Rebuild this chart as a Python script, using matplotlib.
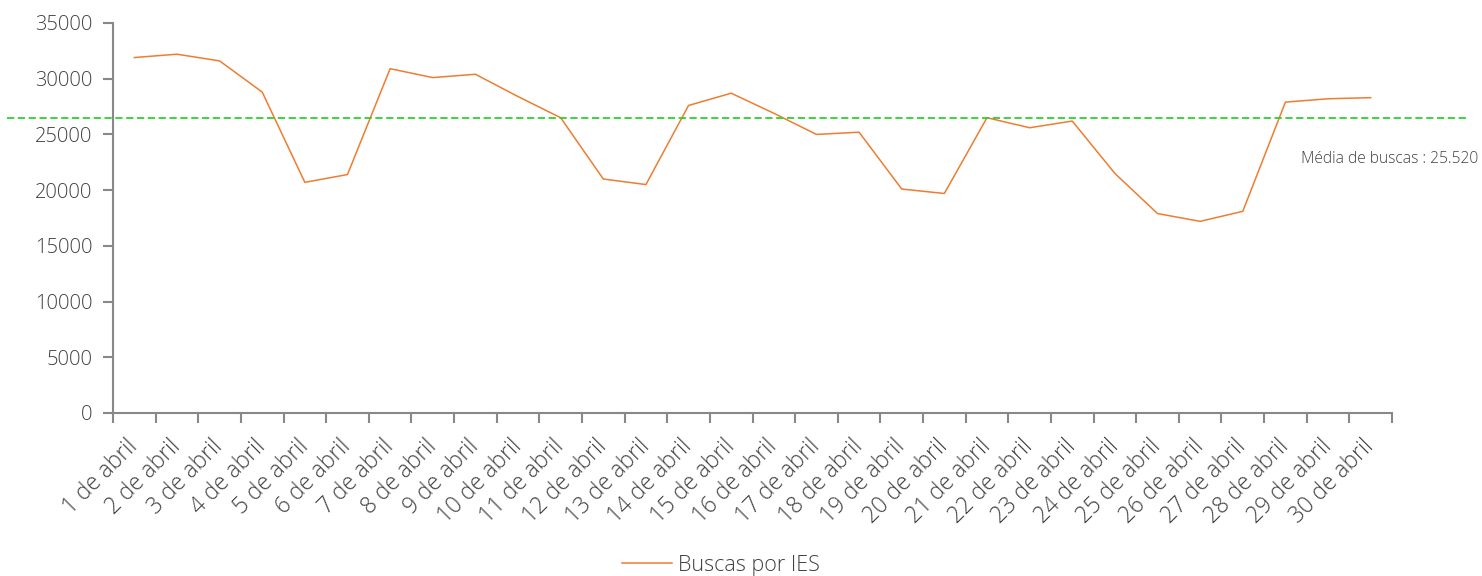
import matplotlib.pyplot as plt
import matplotlib.transforms as mtransforms

# dados
dias = [f"{d} de abril" for d in range(1, 31)]
buscas = [31900, 32200, 31600, 28800, 20700, 21400, 30900, 30100, 30400, 28400,
          26500, 21000, 20500, 27600, 28700, 26900, 25000, 25200, 20100, 19700,
          26500, 25600, 26200, 21500, 17900, 17200, 18100, 27900, 28200, 28300]
media_linha = 26500
media_texto = "Média de buscas : 25.520"

plt.rcParams['font.family'] = ['Open Sans', 'DejaVu Sans']
cinza = '#888888'

fig = plt.figure(figsize=(14.82, 5.76), dpi=100)
ax = fig.add_axes([113/1482, 1 - 413/576, 1279/1482, 390/576])

x = list(range(len(dias)))
ax.plot(x, buscas, color='#ED7D31', linewidth=1.1, label="Buscas por IES")

# linha da média, passa pela largura toda da figura
trans = mtransforms.blended_transform_factory(ax.transAxes, ax.transData)
ax.plot([-0.083, 1.059], [media_linha, media_linha], color='#2ED12E',
        linestyle='--', linewidth=1.3, dashes=(4, 2), transform=trans, clip_on=False)
fig.text(1478/1482, 1 - 159/576, media_texto, ha='right', va='center',
         fontsize=11.2, color='#404040', fontweight='light')

ax.set_xlim(-0.5, len(dias) - 0.5)
ax.set_ylim(0, 35000)
ax.set_yticks(range(0, 35001, 5000))
ax.set_xticks([i - 0.5 for i in range(len(dias) + 1)], minor=False)
ax.set_xticklabels([])
ax.set_xticks(x, minor=True)
ax.set_xticklabels(dias, minor=True, rotation=45, ha='right', va='center',
                   rotation_mode='anchor', fontsize=16.3, color='#404040',
                   fontweight='light')
desloc = mtransforms.ScaledTranslation(8/100, 0, fig.dpi_scale_trans)
for lab in ax.get_xticklabels(minor=True):
    lab.set_transform(lab.get_transform() + desloc)
ax.tick_params(axis='x', which='major', length=7, width=1.5, color=cinza, direction='out')
ax.tick_params(axis='x', which='minor', length=0, pad=22)
ax.tick_params(axis='y', length=7, width=1.5, color=cinza, labelsize=14.5,
               labelcolor='#404040', pad=8)
for lab in ax.get_yticklabels():
    lab.set_fontweight('light')

for s in ['top', 'right']:
    ax.spines[s].set_visible(False)
for s in ['left', 'bottom']:
    ax.spines[s].set_color(cinza)
    ax.spines[s].set_linewidth(1.5)

leg = fig.legend(loc='center', bbox_to_anchor=(721/1482, 1 - 565/576), frameon=False,
                 fontsize=15.5, handlelength=2.3, handletextpad=0.3)
for t in leg.get_texts():
    t.set_color('#404040')
    t.set_fontweight('light')

fig.savefig('out.png', dpi=100)
